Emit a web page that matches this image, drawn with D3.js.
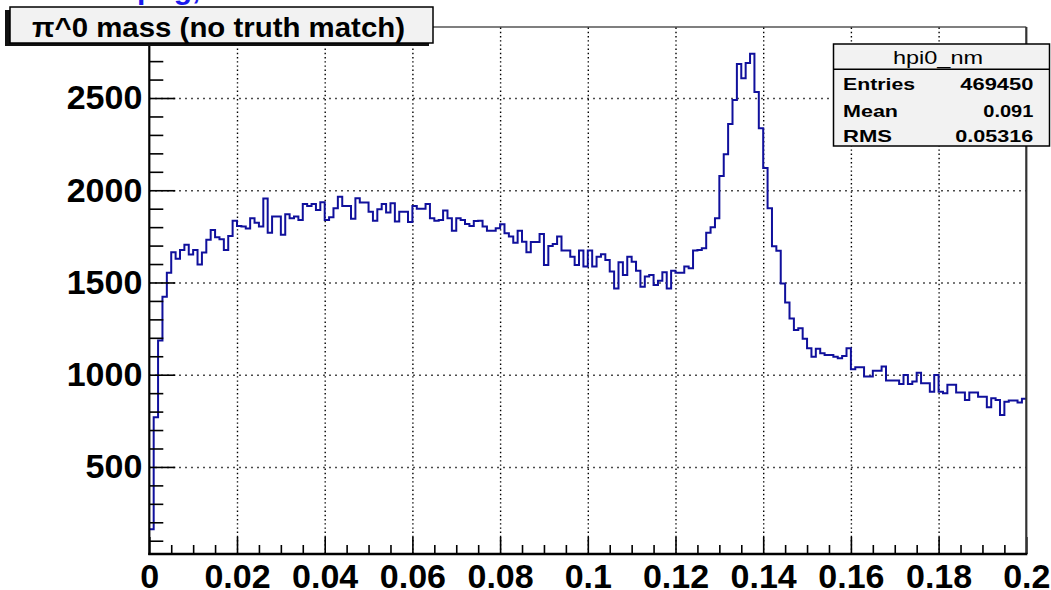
<!DOCTYPE html>
<html>
<head>
<meta charset="utf-8">
<script src="https://cdn.jsdelivr.net/npm/d3@7"></script>
<style>
  body { margin: 0; background: #fff; overflow: hidden; }
  svg { display: block; font-family: "Liberation Sans", Arial, Helvetica, sans-serif; }
</style>
</head>
<body>
<div id="chart"></div>
<script>
// bin contents of hpi0_nm (200 bins, 0 .. 0.2)
var counts = [
  162, 769, 1185, 1423, 1553, 1664, 1629, 1676, 1705, 1651, 1676, 1597, 1662, 1731, 1785, 1745, 1734, 1676, 1752, 1835,
  1806, 1803, 1792, 1848, 1824, 1803, 1955, 1770, 1857, 1857, 1759, 1870, 1848, 1857, 1839, 1926, 1915, 1926, 1893, 1935,
  1839, 1853, 1902, 1965, 1915, 1915, 1846, 1956, 1933, 1933, 1884, 1835, 1897, 1926, 1879, 1929, 1830, 1884, 1884, 1828,
  1915, 1900, 1900, 1926, 1848, 1835, 1839, 1890, 1848, 1781, 1848, 1839, 1817, 1806, 1833, 1835, 1803, 1781, 1781, 1794,
  1815, 1767, 1749, 1716, 1781, 1721, 1664, 1720, 1720, 1763, 1595, 1698, 1709, 1749, 1673, 1673, 1640, 1595, 1673, 1586,
  1673, 1586, 1640, 1653, 1622, 1559, 1468, 1609, 1541, 1640, 1613, 1564, 1477, 1532, 1541, 1486, 1510, 1555, 1468, 1564,
  1553, 1553, 1586, 1577, 1673, 1676, 1685, 1770, 1799, 1848, 2077, 2195, 2359, 2489, 2685, 2607, 2690, 2740, 2533, 2336,
  2121, 1903, 1696, 1672, 1494, 1391, 1305, 1242, 1252, 1195, 1143, 1098, 1141, 1116, 1107, 1107, 1098, 1089, 1102, 1143,
  1030, 1040, 1040, 990, 990, 1022, 1022, 1044, 968, 968, 968, 950, 999, 950, 963, 1011, 954, 954, 908, 999,
  908, 899, 945, 945, 903, 903, 863, 903, 903, 881, 881, 823, 872, 863, 782, 854, 860, 860, 849, 869
];
var xRange = [0, 0.2];
var yRange = [28, 2885];
var xMajor = [0, 0.02, 0.04, 0.06, 0.08, 0.1, 0.12, 0.14, 0.16, 0.18, 0.2];
var xLabels = ["0", "0.02", "0.04", "0.06", "0.08", "0.1", "0.12", "0.14", "0.16", "0.18", "0.2"];
var yMajor = [500, 1000, 1500, 2000, 2500];
var yLabels = ["500", "1000", "1500", "2000", "2500"];
var histTitle = "\u03c0^0 mass (no truth match)";
var statsName = "hpi0_nm";
var statsKeys = ["Entries", "Mean", "RMS"];
var statsValues = ["469450", "0.091", "0.05316"];

var W = 1051, H = 590;
var frame = { left: 149.3, right: 1026.3, top: 27, bottom: 554 };

var svg = d3.select("#chart").append("svg")
    .attr("width", W)
    .attr("height", H);

var x = d3.scaleLinear().domain(xRange).range([frame.left, frame.right]);
var y = d3.scaleLinear().domain(yRange).range([frame.bottom, frame.top]);

var binW = (xRange[1] - xRange[0]) / counts.length;

// minor ticks: 4 divisions on x, 5 on y
var xMinor = d3.range(1, 40).filter(i => i % 4 !== 0).map(i => i * 0.005);
var yMinor = d3.range(1, 29).filter(i => i % 5 !== 0).map(i => i * 100);

// clipped web-page link above the canvas
svg.append("text")
    .attr("x", 137).attr("y", -1)
    .style("font-size", "30px").style("font-weight", "bold")
    .attr("fill", "#1a1aee")
    .text("png,");

// grid
svg.append("g")
    .attr("transform", "translate(0," + frame.bottom + ")")
    .call(d3.axisBottom(x).tickValues(xMajor.slice(1, -1))
        .tickSize(-(frame.bottom - frame.top)).tickFormat(""))
    .call(g => g.select(".domain").remove())
    .selectAll("line")
    .attr("stroke", "#000").attr("stroke-width", 1.4)
    .attr("stroke-dasharray", "1.4,2.8");

svg.append("g")
    .attr("transform", "translate(" + frame.left + ",0)")
    .call(d3.axisLeft(y).tickValues(yMajor)
        .tickSize(-(frame.right - frame.left)).tickFormat(""))
    .call(g => g.select(".domain").remove())
    .selectAll("line")
    .attr("stroke", "#000").attr("stroke-width", 1.4)
    .attr("stroke-dasharray", "1.4,4.6");

// histogram outline
var pts = [];
counts.forEach(function(c, i) {
    pts.push([x(i * binW), y(c)]);
    pts.push([x((i + 1) * binW), y(c)]);
});
svg.append("path")
    .attr("d", d3.line()(pts))
    .attr("fill", "none")
    .attr("stroke", "#10109c")
    .attr("stroke-width", 2);

// axes
var yAxis = svg.append("g")
    .attr("transform", "translate(" + frame.left + ",0)");
yAxis.call(d3.axisLeft(y).tickValues(yMinor).tickSize(-14).tickFormat(""));
yAxis.append("g").call(d3.axisLeft(y).tickValues(yMajor).tickSize(-26).tickPadding(7)
    .tickFormat((d, i) => yLabels[i]));
yAxis.selectAll(".domain").remove();
yAxis.selectAll("line").attr("stroke", "#000").attr("stroke-width", 1.6);
yAxis.selectAll("text")
    .attr("fill", "#000")
    .style("font-size", "34px").style("font-weight", "bold");

var xAxis = svg.append("g")
    .attr("transform", "translate(0," + frame.bottom + ")");
xAxis.call(d3.axisBottom(x).tickValues(xMinor).tickSize(-9).tickFormat(""));
xAxis.append("g").call(d3.axisBottom(x).tickValues(xMajor).tickSize(-17).tickPadding(10)
    .tickFormat((d, i) => xLabels[i]));
xAxis.selectAll(".domain").remove();
xAxis.selectAll("line").attr("stroke", "#000").attr("stroke-width", 1.6);
xAxis.selectAll("text")
    .attr("fill", "#000")
    .style("font-size", "34px").style("font-weight", "bold");

// frame
svg.append("line")
    .attr("x1", frame.left).attr("x2", frame.right)
    .attr("y1", frame.top).attr("y2", frame.top)
    .attr("stroke", "#000").attr("stroke-width", 1.2);
svg.append("line")
    .attr("x1", frame.right).attr("x2", frame.right)
    .attr("y1", frame.top).attr("y2", frame.bottom)
    .attr("stroke", "#333").attr("stroke-width", 2.2);
svg.append("line")
    .attr("x1", frame.left).attr("x2", frame.left)
    .attr("y1", frame.top).attr("y2", frame.bottom + 1)
    .attr("stroke", "#000").attr("stroke-width", 2.2);
svg.append("line")
    .attr("x1", frame.left - 1).attr("x2", frame.right + 1)
    .attr("y1", frame.bottom).attr("y2", frame.bottom)
    .attr("stroke", "#000").attr("stroke-width", 2.4);

// title box (shadow sits left/below)
svg.append("rect")
    .attr("x", 5).attr("y", 10).attr("width", 424).attr("height", 36)
    .attr("fill", "#111");
svg.append("rect")
    .attr("x", 10).attr("y", 7).attr("width", 423).attr("height", 36)
    .attr("fill", "#f2f2f2").attr("stroke", "#000").attr("stroke-width", 1.5);
svg.append("text")
    .attr("x", 32).attr("y", 37)
    .attr("textLength", 373).attr("lengthAdjust", "spacingAndGlyphs")
    .style("font-size", "28px").style("font-weight", "bold")
    .text(histTitle);

// stats box
var sb = { x: 833.5, y: 44, w: 216, h: 102, sep: 69.3 };
svg.append("rect")
    .attr("x", sb.x).attr("y", sb.y).attr("width", sb.w).attr("height", sb.h)
    .attr("fill", "#f2f2f2").attr("stroke", "#000").attr("stroke-width", 1.5);
svg.append("line")
    .attr("x1", sb.x).attr("x2", sb.x + sb.w)
    .attr("y1", sb.sep).attr("y2", sb.sep)
    .attr("stroke", "#000").attr("stroke-width", 1.5);
svg.append("text")
    .attr("x", 938).attr("y", 64.3)
    .attr("text-anchor", "middle")
    .attr("textLength", 90).attr("lengthAdjust", "spacingAndGlyphs")
    .style("font-size", "18px")
    .text(statsName);

var rowY = [90, 116.7, 142.3];
var keyW = [72, 55, 49];
var valW = [73, 50, 78];
statsKeys.forEach(function(k, i) {
    svg.append("text")
        .attr("x", 843).attr("y", rowY[i])
        .attr("textLength", keyW[i]).attr("lengthAdjust", "spacingAndGlyphs")
        .style("font-size", "16.5px").style("font-weight", "bold")
        .text(k);
    svg.append("text")
        .attr("x", 1033.3 - valW[i]).attr("y", rowY[i])
        .attr("textLength", valW[i]).attr("lengthAdjust", "spacingAndGlyphs")
        .style("font-size", "16.5px").style("font-weight", "bold")
        .text(statsValues[i]);
});
</script>
</body>
</html>
